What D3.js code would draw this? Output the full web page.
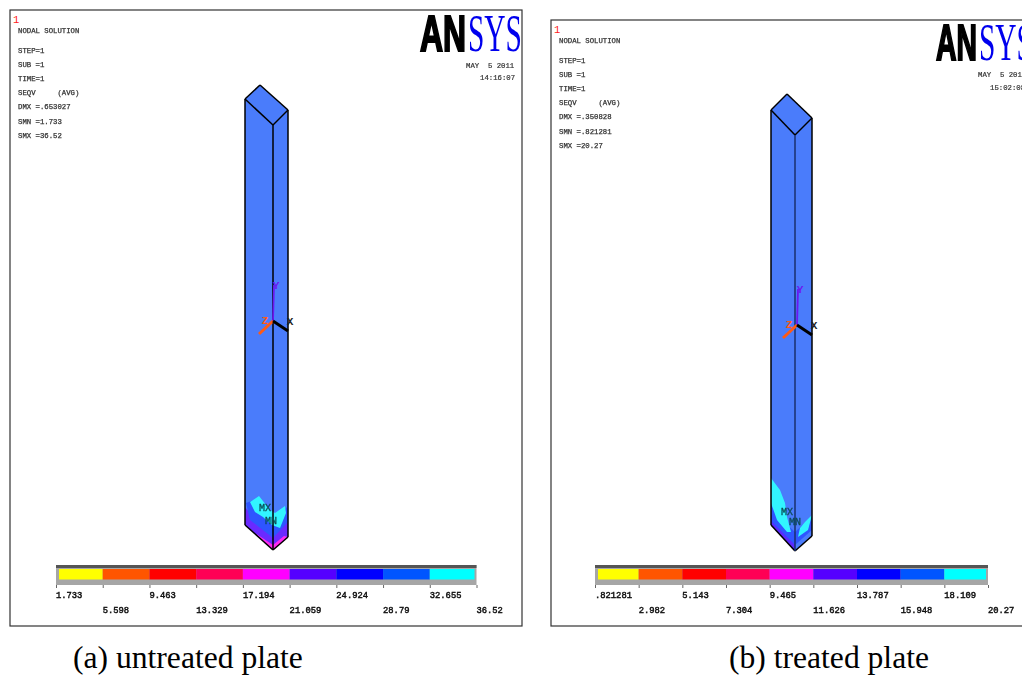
<!DOCTYPE html>
<html>
<head>
<meta charset="utf-8">
<script src="https://cdn.jsdelivr.net/npm/d3@7"></script>
<style>
  html, body { margin: 0; padding: 0; background: #fff; overflow: hidden; }
  svg { display: block; }
</style>
</head>
<body>
<div id="chart"></div>
<script>
// Contour band colours, low to high stress
const bandColors = ['#ffff00', '#ff5500', '#ff0000', '#ff0055', '#ff00ff', '#5500ff', '#0000ff', '#0055ff', '#00ffff'];

// Contour labels for each plate
const labelsA = ['1.733', '5.598', '9.463', '13.329', '17.194', '21.059', '24.924', '28.79', '32.655', '36.52'];
const labelsB = ['.821281', '2.982', '5.143', '7.304', '9.465', '11.626', '13.787', '15.948', '18.109', '20.27'];

// Header block of the ANSYS plot
const infoA = ['STEP=1', 'SUB =1', 'TIME=1', 'SEQV     (AVG)', 'DMX =.653027', 'SMN =1.733', 'SMX =36.52'];
const infoB = ['STEP=1', 'SUB =1', 'TIME=1', 'SEQV     (AVG)', 'DMX =.350828', 'SMN =.821281', 'SMX =20.27'];

// Prism outline: left, back, right, front corners of the top, then left, front, right of the bottom
const prismA = [[245, 99], [260, 85], [288, 110], [273, 125], [245, 525], [273, 550], [288, 537]];
const prismB = [[771, 110], [787, 94], [812, 118], [795, 135], [771, 525], [795, 551], [812, 536]];

// Stress zones traced from the lower end of each plate
const zonesA = [
    { color: '#6a2cff', pts: [[245, 507], [255, 519], [273, 532], [288, 520], [288, 537], [273, 550], [245, 525]] },
    { color: '#2f55ff', pts: [[246, 503], [254, 500], [273, 523], [287, 507], [288, 522], [273, 538], [250, 520]] },
    { color: '#ff2bf0', pts: [[255, 533], [273, 545], [284, 536], [288, 537], [273, 550]] },
    { color: '#33f4ff', pts: [[250, 502], [259, 496], [270, 510], [275, 513], [285, 506], [286, 513], [280, 528], [272, 525], [263, 517], [255, 512]] }
];
const zonesB = [
    { color: '#5a2cff', pts: [[771, 514], [778, 522], [790, 533], [795, 540], [795, 551], [771, 525]] },
    { color: '#2f55ff', pts: [[771, 505], [780, 518], [795, 532], [812, 516], [812, 530], [795, 545], [772, 522]] },
    { color: '#33f4ff', pts: [[771, 478], [780, 490], [785, 503], [787, 517], [791, 532], [787, 532], [777, 520], [771, 503]] },
    { color: '#33f4ff', pts: [[812, 515], [808, 530], [798, 537], [800, 528], [805, 522]] }
];

const width = 1022;
const height = 677;
const faceBlue = '#4a7cfb';

const svg = d3.select('#chart').append('svg')
    .attr('width', width)
    .attr('height', height)
    .attr('viewBox', `0 0 ${width} ${height}`);

// Slight softening, the original is a low-res screenshot
svg.append('defs').append('filter')
    .attr('id', 'soft')
    .append('feGaussianBlur')
    .attr('stdDeviation', 0.4);

const line = d3.line();

function drawPanel(cfg) {
    const g = svg.append('g');

    // Frame
    g.append('rect')
        .attr('x', cfg.frame[0])
        .attr('y', cfg.frame[1])
        .attr('width', cfg.frame[2] - cfg.frame[0])
        .attr('height', cfg.frame[3] - cfg.frame[1])
        .attr('fill', '#fff')
        .attr('stroke', '#333')
        .attr('stroke-width', 1.2);

    // Plot number
    g.append('text')
        .attr('x', cfg.frame[0] + 3)
        .attr('y', cfg.frame[1] + 13)
        .attr('font-family', 'Liberation Mono')
        .attr('font-size', 10.5)
        .attr('fill', '#ff2020')
        .text('1');

    // Header text
    const textX = cfg.frame[0] + 8;
    g.append('text')
        .attr('class', 'info')
        .attr('x', textX)
        .attr('y', cfg.infoY - 20)
        .text('NODAL SOLUTION');

    g.selectAll('.row')
        .data(cfg.info)
        .enter()
        .append('text')
        .attr('class', 'info row')
        .attr('x', textX)
        .attr('y', (d, i) => cfg.infoY + i * 14.1)
        .style('white-space', 'pre')
        .text(d => d);

    g.selectAll('.info')
        .attr('font-family', 'Liberation Mono')
        .attr('font-size', 7.3)
        .attr('fill', '#333')
        .attr('stroke', '#333')
        .attr('stroke-width', 0.25)
        .attr('filter', 'url(#soft)');

    // Logo
    const logo = g.append('g').attr('filter', 'url(#soft)');
    logo.append('text')
        .attr('x', cfg.logo[0] + 1)
        .attr('y', cfg.logo[1])
        .attr('font-family', 'Liberation Sans')
        .attr('font-weight', 'bold')
        .attr('font-size', 50)
        .attr('textLength', cfg.logo[2] - 2)
        .attr('lengthAdjust', 'spacingAndGlyphs')
        .attr('fill', '#000')
        .attr('stroke', '#000')
        .attr('stroke-width', 2.2)
        .text('AN');
    logo.append('text')
        .attr('x', cfg.logo[0] + cfg.logo[2] + 1)
        .attr('y', cfg.logo[1])
        .attr('font-family', 'Liberation Serif')
        .attr('font-size', 52)
        .attr('textLength', 54)
        .attr('lengthAdjust', 'spacingAndGlyphs')
        .attr('fill', '#0000ee')
        .text('SYS');

    // Date and time
    g.selectAll('.stamp')
        .data(cfg.stamp)
        .enter()
        .append('text')
        .attr('class', 'stamp')
        .attr('x', d => d.x)
        .attr('y', d => d.y)
        .attr('font-family', 'Liberation Mono')
        .attr('font-size', 7.3)
        .attr('fill', '#333')
        .attr('stroke', '#333')
        .attr('stroke-width', 0.2)
        .attr('filter', 'url(#soft)')
        .style('white-space', 'pre')
        .text(d => d.text);

    drawPrism(g, cfg);
    drawTriad(g, cfg);
    drawLegend(g, cfg);

    // Caption
    g.append('text')
        .attr('x', cfg.caption[0])
        .attr('y', 668)
        .attr('font-family', 'Liberation Serif')
        .attr('font-size', 31.6)
        .attr('fill', '#000')
        .text(cfg.caption[1]);
}

function drawPrism(g, cfg) {
    const [tl, tb, tr, tf, bl, bf, br] = cfg.prism;

    // Body
    g.append('path')
        .attr('d', line([tl, tb, tr, br, bf, bl]) + 'Z')
        .attr('fill', faceBlue);

    // Contour zones
    g.selectAll('.zone')
        .data(cfg.zones)
        .enter()
        .append('path')
        .attr('class', 'zone')
        .attr('d', d => line(d.pts) + 'Z')
        .attr('fill', d => d.color)
        .attr('filter', 'url(#soft)');

    // Edges
    const edges = [[tl, tb], [tb, tr], [tr, tf], [tf, tl], [tl, bl], [tr, br], [bl, bf], [bf, br]];
    g.selectAll('.edge')
        .data(edges)
        .enter()
        .append('path')
        .attr('class', 'edge')
        .attr('d', d => line(d))
        .attr('fill', 'none')
        .attr('stroke', '#000')
        .attr('stroke-width', 1.5);

    g.append('path')
        .attr('d', line([tf, bf]))
        .attr('stroke', cfg.frontEdge)
        .attr('stroke-width', 1.5);

    // MX / MN markers
    g.selectAll('.marker')
        .data(cfg.markers)
        .enter()
        .append('text')
        .attr('class', 'marker')
        .attr('x', d => d.x)
        .attr('y', d => d.y)
        .attr('text-anchor', 'middle')
        .attr('font-family', 'Liberation Mono')
        .attr('font-size', 10)
        .attr('fill', '#0a4a55')
        .attr('stroke', '#0a4a55')
        .attr('stroke-width', 0.3)
        .attr('filter', 'url(#soft)')
        .text(d => d.text);
}

function drawTriad(g, cfg) {
    const [ox, oy] = cfg.origin;
    const arms = [
        { to: [ox + 1, oy - 36], color: '#6a18f0', w: 1.8 },
        { to: [ox - 14, oy + 13], color: '#ff5a14', w: 3 },
        { to: [ox + 15, oy + 10], color: '#000', w: 3 }
    ];
    g.selectAll('.arm')
        .data(arms)
        .enter()
        .append('path')
        .attr('class', 'arm')
        .attr('d', d => line([[ox, oy], d.to]))
        .attr('stroke', d => d.color)
        .attr('stroke-width', d => d.w);

    const names = [
        { text: 'Y', x: ox + 3, y: oy - 32, color: '#6a18f0' },
        { text: 'Z', x: ox - 8, y: oy + 3, color: '#ff5a14' },
        { text: 'X', x: ox + 17, y: oy + 4, color: '#222' }
    ];
    g.selectAll('.axis-name')
        .data(names)
        .enter()
        .append('text')
        .attr('class', 'axis-name')
        .attr('x', d => d.x)
        .attr('y', d => d.y)
        .attr('text-anchor', 'middle')
        .attr('font-family', 'Liberation Mono')
        .attr('font-size', 11)
        .attr('font-weight', 'bold')
        .attr('fill', d => d.color)
        .text(d => d.text);
}

function drawLegend(g, cfg) {
    // One step per contour level
    const x = d3.scalePoint()
        .domain(cfg.labels)
        .range(cfg.legendRange);

    const outer = cfg.legendRange;
    g.append('rect')
        .attr('x', outer[0])
        .attr('y', 565)
        .attr('width', outer[1] - outer[0])
        .attr('height', 20)
        .attr('fill', '#a6a6a6');
    g.append('rect')
        .attr('x', outer[0])
        .attr('y', 565)
        .attr('width', outer[1] - outer[0])
        .attr('height', 3)
        .attr('fill', '#555');

    g.selectAll('.band')
        .data(bandColors)
        .enter()
        .append('rect')
        .attr('class', 'band')
        .attr('x', (d, i) => i === 0 ? outer[0] + 3 : x(cfg.labels[i]))
        .attr('y', 569)
        .attr('width', (d, i) => {
            const left = i === 0 ? outer[0] + 3 : x(cfg.labels[i]);
            const right = i === bandColors.length - 1 ? outer[1] - 2 : x(cfg.labels[i + 1]);
            return right - left;
        })
        .attr('height', 10.5)
        .attr('fill', d => d);

    // Ticks run along the lower edge of the bar
    const axis = d3.axisBottom(x).tickSize(3).tickFormat('');
    const axisG = g.append('g')
        .attr('transform', 'translate(0,585)')
        .call(axis);
    axisG.select('.domain').remove();
    axisG.selectAll('line').attr('stroke', '#666');

    // Labels stagger over two rows
    g.selectAll('.contour-label')
        .data(cfg.labels)
        .enter()
        .append('text')
        .attr('class', 'contour-label')
        .attr('x', d => x(d))
        .attr('y', (d, i) => i % 2 === 0 ? 598 : 613)
        .attr('font-family', 'Liberation Mono')
        .attr('font-size', 8.8)
        .attr('fill', '#111')
        .attr('stroke', '#111')
        .attr('stroke-width', 0.45)
        .attr('filter', 'url(#soft)')
        .text(d => d);
}

drawPanel({
    frame: [10, 10, 522, 626],
    infoY: 53,
    info: infoA,
    logo: [419, 51, 48],
    stamp: [{ text: 'MAY  5 2011', x: 466, y: 68 }, { text: '14:16:07', x: 480, y: 80 }],
    prism: prismA,
    zones: zonesA,
    frontEdge: '#000',
    markers: [{ text: 'MX', x: 265, y: 511 }, { text: 'MN', x: 271, y: 524 }],
    origin: [273, 321],
    labels: labelsA,
    legendRange: [56, 476.5],
    caption: [73, '(a) untreated plate']
});

drawPanel({
    frame: [551, 20, 1030, 626],
    infoY: 63,
    info: infoB,
    logo: [935, 60, 43],
    stamp: [{ text: 'MAY  5 2011', x: 978, y: 77 }, { text: '15:02:08', x: 990, y: 90 }],
    prism: prismB,
    zones: zonesB,
    frontEdge: '#1a2f6e',
    markers: [{ text: 'MX', x: 787, y: 515 }, { text: 'MN', x: 795, y: 525 }],
    origin: [797, 325],
    labels: labelsB,
    legendRange: [595, 988],
    caption: [729, '(b) treated plate']
});
</script>
</body>
</html>
